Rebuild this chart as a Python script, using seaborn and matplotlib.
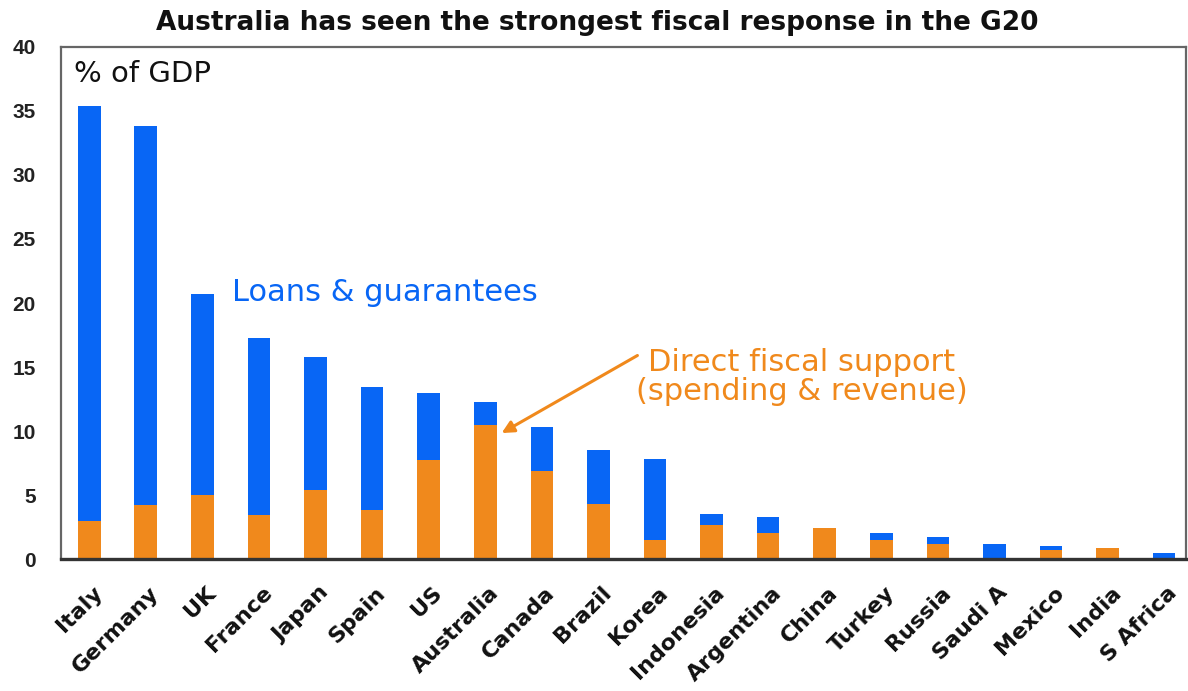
"""Fiscal response in the G20, % of GDP."""
import seaborn as sns
import matplotlib.pyplot as plt
import matplotlib.transforms as mtransforms
import pandas as pd

countries = ["Italy", "Germany", "UK", "France", "Japan", "Spain", "US",
             "Australia", "Canada", "Brazil", "Korea", "Indonesia", "Argentina",
             "China", "Turkey", "Russia", "Saudi A", "Mexico", "India", "S Africa"]
direct = [3.0, 4.2, 5.0, 3.4, 5.4, 3.8, 7.7, 10.5, 6.9, 4.3, 1.5,
          2.65, 2.0, 2.4, 1.5, 1.15, 0.0, 0.7, 0.83, 0.0]
loans = [32.4, 29.6, 15.7, 13.85, 10.4, 9.6, 5.3, 1.8, 3.4, 4.2, 6.3,
         0.85, 1.3, 0.0, 0.5, 0.6, 1.15, 0.3, 0.0, 0.5]

BLUE = "#0866F5"
ORANGE = "#F0891C"

df = pd.DataFrame({"country": countries, "direct": direct, "loans": loans})
df["total"] = df.direct + df.loans

sns.set_style("white")
plt.rcParams["font.family"] = ["DejaVu Sans"]

fig, ax = plt.subplots(figsize=(11.88, 6.91), dpi=100)
fig.subplots_adjust(left=0.0513, right=0.998, top=0.932, bottom=0.191)

# stacked: total in blue, direct support drawn over it in orange
sns.barplot(data=df, x="country", y="total", color=BLUE, width=0.4,
            saturation=1, linewidth=0, ax=ax)
sns.barplot(data=df, x="country", y="direct", color=ORANGE, width=0.4,
            saturation=1, linewidth=0, ax=ax)

ax.set_ylim(0, 40)
ax.set_xlim(-0.5, len(countries) - 0.62)
ax.set_yticks(range(0, 41, 5))
ax.set_xlabel("")
ax.set_ylabel("")
ax.tick_params(axis="y", length=0, pad=18)
ax.tick_params(axis="x", length=0, pad=17)
for lbl in ax.get_yticklabels():
    lbl.set_fontfamily("Liberation Sans")
    lbl.set_fontweight("bold")
    lbl.set_fontsize(15)
    lbl.set_color("#222222")
shift = mtransforms.ScaledTranslation(3 / 100, 0, fig.dpi_scale_trans)
for lbl in ax.get_xticklabels():
    lbl.set_fontweight("bold")
    lbl.set_fontsize(16)
    lbl.set_color("#111111")
    lbl.set_rotation(45)
    lbl.set_ha("right")
    lbl.set_va("top")
    lbl.set_rotation_mode("anchor")
    lbl.set_transform(lbl.get_transform() + shift)

for sp in ax.spines.values():
    sp.set_color("#666666")
    sp.set_linewidth(1.6)
ax.spines["bottom"].set_color("#333333")
ax.spines["bottom"].set_linewidth(2.4)

fig.text(0.503, 0.966, "Australia has seen the strongest fiscal response in the G20",
         fontsize=19, fontweight="bold", ha="center", va="center",
         color="#111111")
ax.text(0.012, 0.975, "% of GDP", transform=ax.transAxes, fontsize=21,
        va="top", ha="left", color="#111111")
ax.text(2.52, 20.8, "Loans & guarantees", color=BLUE, fontsize=22,
        ha="left", va="center")
ax.text(12.6, 14.2, "Direct fiscal support\n(spending & revenue)", color=ORANGE,
        fontsize=22, ha="center", va="center", linespacing=1.0)
ax.annotate("", xy=(7.29, 9.84), xytext=(9.69, 15.9),
            arrowprops=dict(arrowstyle="-|>", color=ORANGE, lw=2.2,
                            mutation_scale=18, shrinkA=0, shrinkB=0))

fig.savefig("out.png", dpi=100)
